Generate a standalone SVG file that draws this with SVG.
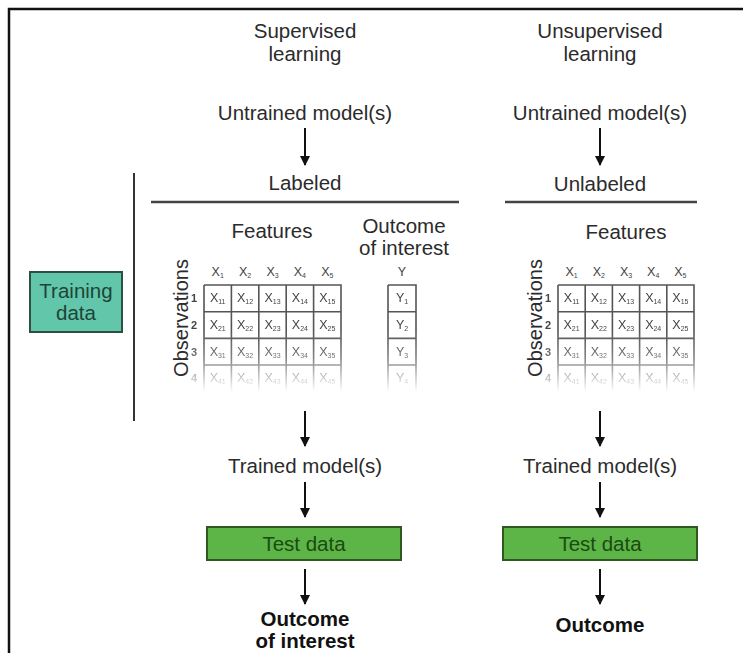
<svg xmlns="http://www.w3.org/2000/svg" width="743" height="653" viewBox="0 0 743 653">
<style>
text{font-family:"Liberation Sans",Arial,sans-serif;fill:#2b2b2b}
.t20{font-size:20.5px;text-anchor:middle}
.bold{font-weight:bold;fill:#111}
.cell{fill:none;stroke:#555;stroke-width:1.6}
.cx{font-size:12.5px;text-anchor:middle;fill:#444}
.sub{font-size:7px}
.rn{font-size:11px;text-anchor:middle;fill:#444;font-weight:bold}
.obs{font-size:20px;text-anchor:middle}
.conn{stroke:#111;stroke-width:2;fill:none}
.rule{stroke:#444;stroke-width:2.5;fill:none}
</style>
<defs>
<marker id="ah" viewBox="0 0 10 10" refX="9" refY="5" markerWidth="5" markerHeight="5.5" orient="auto" markerUnits="strokeWidth">
<path d="M0,0 L10,5 L0,10 z" fill="#111"/>
</marker>
<linearGradient id="fade" x1="0" y1="330" x2="0" y2="392" gradientUnits="userSpaceOnUse">
<stop offset="0" stop-color="#fff"/>
<stop offset="0.45" stop-color="#bbb"/>
<stop offset="1" stop-color="#000"/>
</linearGradient>
<mask id="m" maskUnits="userSpaceOnUse" x="0" y="0" width="743" height="653">
<rect x="0" y="0" width="743" height="653" fill="url(#fade)"/>
</mask>
</defs>
<rect x="0" y="0" width="743" height="653" fill="#fff"/>
<path d="M9,653 V9 H743" fill="none" stroke="#111" stroke-width="2.5"/>

<g id="titles">
<text class="t20" x="305" y="38">Supervised</text>
<text class="t20" x="305" y="61">learning</text>
<text class="t20" x="600" y="38">Unsupervised</text>
<text class="t20" x="600" y="61">learning</text>
</g>

<g id="untrained-sup"><text class="t20" x="305" y="120">Untrained model(s)</text></g>
<g id="untrained-unsup"><text class="t20" x="600" y="120">Untrained model(s)</text></g>

<g id="labeled"><text class="t20" x="305" y="190">Labeled</text></g>
<g id="unlabeled"><text class="t20" x="600" y="191">Unlabeled</text></g>

<g id="rules">
<line class="rule" x1="151" y1="202" x2="459" y2="202"/>
<line class="rule" x1="505" y1="202" x2="697" y2="202"/>
<line x1="134" y1="173" x2="134" y2="421" stroke="#333" stroke-width="2"/>
</g>

<g id="training-data">
<rect x="30" y="272" width="92" height="60" fill="#62c6aa" stroke="#2d4f44" stroke-width="2"/>
<text class="t20" x="76" y="298" style="fill:#1e4438">Training</text>
<text class="t20" x="76" y="320" style="fill:#1e4438">data</text>
</g>

<g id="features-sup"><text class="t20" x="272" y="238">Features</text></g>
<g id="outcome-header">
<text class="t20" x="404" y="233">Outcome</text>
<text class="t20" x="404" y="255">of interest</text>
</g>
<g id="features-unsup"><text class="t20" x="626" y="239">Features</text></g>

<g id="matrix-sup">
<text class="obs" transform="translate(188,318) rotate(-90)">Observations</text>
<text class="cx" x="217.7" y="276">X<tspan class="sub" dy="2">1</tspan></text>
<text class="cx" x="245.1" y="276">X<tspan class="sub" dy="2">2</tspan></text>
<text class="cx" x="272.5" y="276">X<tspan class="sub" dy="2">3</tspan></text>
<text class="cx" x="299.9" y="276">X<tspan class="sub" dy="2">4</tspan></text>
<text class="cx" x="327.3" y="276">X<tspan class="sub" dy="2">5</tspan></text>
<text class="cx" x="402" y="276">Y</text>
<g mask="url(#m)">
<text class="rn" x="194" y="302">1</text>
<text class="rn" x="194" y="329">2</text>
<text class="rn" x="194" y="356">3</text>
<text class="rn" x="194" y="382">4</text>
<path class="cell" d="M204,285 H341 V392 M204,392 V285 M204,311.7 H341 M204,338.4 H341 M204,365 H341 M231.4,285 V392 M258.8,285 V392 M286.2,285 V392 M313.6,285 V392"/>
<path class="cell" d="M388,285 H416 V392 M388,392 V285 M388,311.7 H416 M388,338.4 H416 M388,365 H416"/>
<text class="cx" x="217.7" y="302">X<tspan class="sub" dy="2">11</tspan></text>
<text class="cx" x="245.1" y="302">X<tspan class="sub" dy="2">12</tspan></text>
<text class="cx" x="272.5" y="302">X<tspan class="sub" dy="2">13</tspan></text>
<text class="cx" x="299.9" y="302">X<tspan class="sub" dy="2">14</tspan></text>
<text class="cx" x="327.3" y="302">X<tspan class="sub" dy="2">15</tspan></text>
<text class="cx" x="217.7" y="329">X<tspan class="sub" dy="2">21</tspan></text>
<text class="cx" x="245.1" y="329">X<tspan class="sub" dy="2">22</tspan></text>
<text class="cx" x="272.5" y="329">X<tspan class="sub" dy="2">23</tspan></text>
<text class="cx" x="299.9" y="329">X<tspan class="sub" dy="2">24</tspan></text>
<text class="cx" x="327.3" y="329">X<tspan class="sub" dy="2">25</tspan></text>
<text class="cx" x="217.7" y="356">X<tspan class="sub" dy="2">31</tspan></text>
<text class="cx" x="245.1" y="356">X<tspan class="sub" dy="2">32</tspan></text>
<text class="cx" x="272.5" y="356">X<tspan class="sub" dy="2">33</tspan></text>
<text class="cx" x="299.9" y="356">X<tspan class="sub" dy="2">34</tspan></text>
<text class="cx" x="327.3" y="356">X<tspan class="sub" dy="2">35</tspan></text>
<text class="cx" x="217.7" y="382">X<tspan class="sub" dy="2">41</tspan></text>
<text class="cx" x="245.1" y="382">X<tspan class="sub" dy="2">42</tspan></text>
<text class="cx" x="272.5" y="382">X<tspan class="sub" dy="2">43</tspan></text>
<text class="cx" x="299.9" y="382">X<tspan class="sub" dy="2">44</tspan></text>
<text class="cx" x="327.3" y="382">X<tspan class="sub" dy="2">45</tspan></text>
<text class="cx" x="402" y="302">Y<tspan class="sub" dy="2">1</tspan></text>
<text class="cx" x="402" y="329">Y<tspan class="sub" dy="2">2</tspan></text>
<text class="cx" x="402" y="356">Y<tspan class="sub" dy="2">3</tspan></text>
<text class="cx" x="402" y="382">Y<tspan class="sub" dy="2">4</tspan></text>
</g>
</g>

<g id="matrix-unsup">
<text class="obs" transform="translate(542,318) rotate(-90)">Observations</text>
<text class="cx" x="571.6" y="276">X<tspan class="sub" dy="2">1</tspan></text>
<text class="cx" x="598.8" y="276">X<tspan class="sub" dy="2">2</tspan></text>
<text class="cx" x="626" y="276">X<tspan class="sub" dy="2">3</tspan></text>
<text class="cx" x="653.2" y="276">X<tspan class="sub" dy="2">4</tspan></text>
<text class="cx" x="680.4" y="276">X<tspan class="sub" dy="2">5</tspan></text>
<g mask="url(#m)">
<text class="rn" x="548" y="302">1</text>
<text class="rn" x="548" y="329">2</text>
<text class="rn" x="548" y="356">3</text>
<text class="rn" x="548" y="382">4</text>
<path class="cell" d="M558,285 H694 V392 M558,392 V285 M558,311.7 H694 M558,338.4 H694 M558,365 H694 M585.2,285 V392 M612.4,285 V392 M639.6,285 V392 M666.8,285 V392"/>
<text class="cx" x="571.6" y="302">X<tspan class="sub" dy="2">11</tspan></text>
<text class="cx" x="598.8" y="302">X<tspan class="sub" dy="2">12</tspan></text>
<text class="cx" x="626" y="302">X<tspan class="sub" dy="2">13</tspan></text>
<text class="cx" x="653.2" y="302">X<tspan class="sub" dy="2">14</tspan></text>
<text class="cx" x="680.4" y="302">X<tspan class="sub" dy="2">15</tspan></text>
<text class="cx" x="571.6" y="329">X<tspan class="sub" dy="2">21</tspan></text>
<text class="cx" x="598.8" y="329">X<tspan class="sub" dy="2">22</tspan></text>
<text class="cx" x="626" y="329">X<tspan class="sub" dy="2">23</tspan></text>
<text class="cx" x="653.2" y="329">X<tspan class="sub" dy="2">24</tspan></text>
<text class="cx" x="680.4" y="329">X<tspan class="sub" dy="2">25</tspan></text>
<text class="cx" x="571.6" y="356">X<tspan class="sub" dy="2">31</tspan></text>
<text class="cx" x="598.8" y="356">X<tspan class="sub" dy="2">32</tspan></text>
<text class="cx" x="626" y="356">X<tspan class="sub" dy="2">33</tspan></text>
<text class="cx" x="653.2" y="356">X<tspan class="sub" dy="2">34</tspan></text>
<text class="cx" x="680.4" y="356">X<tspan class="sub" dy="2">35</tspan></text>
<text class="cx" x="571.6" y="382">X<tspan class="sub" dy="2">41</tspan></text>
<text class="cx" x="598.8" y="382">X<tspan class="sub" dy="2">42</tspan></text>
<text class="cx" x="626" y="382">X<tspan class="sub" dy="2">43</tspan></text>
<text class="cx" x="653.2" y="382">X<tspan class="sub" dy="2">44</tspan></text>
<text class="cx" x="680.4" y="382">X<tspan class="sub" dy="2">45</tspan></text>
</g>
</g>

<g id="trained-sup"><text class="t20" x="305" y="473">Trained model(s)</text></g>
<g id="trained-unsup"><text class="t20" x="600" y="473">Trained model(s)</text></g>

<g id="test-sup">
<rect x="207" y="527" width="194" height="33" fill="#5db547" stroke="#2e5a22" stroke-width="2"/>
<text class="t20" x="304" y="551" style="fill:#1b4a12">Test data</text>
</g>
<g id="test-unsup">
<rect x="503" y="527" width="194" height="33" fill="#5db547" stroke="#2e5a22" stroke-width="2"/>
<text class="t20" x="600" y="551" style="fill:#1b4a12">Test data</text>
</g>

<g id="outcome-sup">
<text class="t20 bold" x="305" y="626">Outcome</text>
<text class="t20 bold" x="305" y="648">of interest</text>
</g>
<g id="outcome-unsup">
<text class="t20 bold" x="600" y="632">Outcome</text>
</g>

<g id="connectors">
<line class="conn" x1="305" y1="128" x2="305" y2="165" marker-end="url(#ah)"/>
<line class="conn" x1="600" y1="128" x2="600" y2="165" marker-end="url(#ah)"/>
<line class="conn" x1="305" y1="411" x2="305" y2="446" marker-end="url(#ah)"/>
<line class="conn" x1="600" y1="411" x2="600" y2="446" marker-end="url(#ah)"/>
<line class="conn" x1="305" y1="482" x2="305" y2="517" marker-end="url(#ah)"/>
<line class="conn" x1="600" y1="482" x2="600" y2="517" marker-end="url(#ah)"/>
<line class="conn" x1="305" y1="569" x2="305" y2="604" marker-end="url(#ah)"/>
<line class="conn" x1="600" y1="569" x2="600" y2="604" marker-end="url(#ah)"/>
</g>
</svg>
